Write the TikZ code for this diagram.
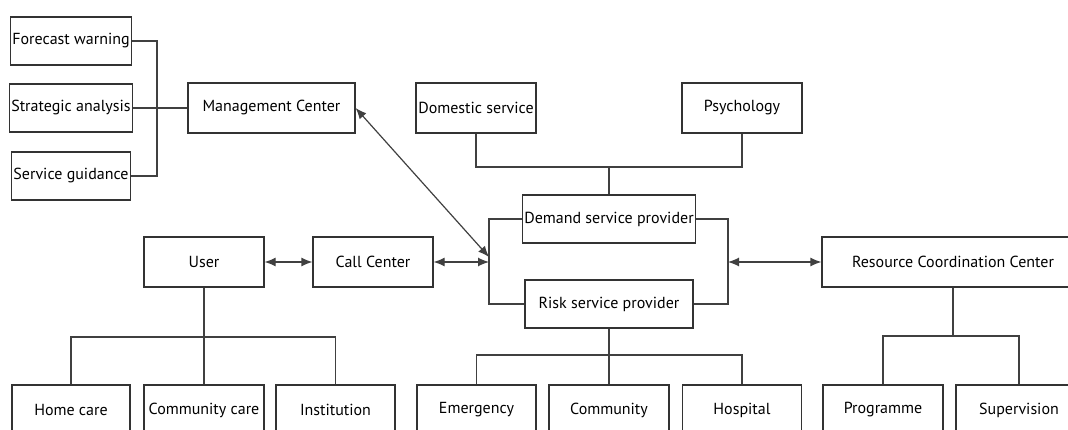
\documentclass[tikz,border=0pt]{standalone}
\usepackage{fontspec}
\setmainfont{PT Sans}
\usetikzlibrary{arrows.meta,positioning}

\begin{document}
\begin{tikzpicture}[x=1pt,y=-1pt,line width=1.2pt,
    box/.style={draw=black!80,rectangle,minimum height=48pt,inner sep=2pt,
        text=black,font=\fontsize{16}{19}\selectfont},
    link/.style={draw=black!75,line width=1.2pt},
    twoway/.style={link,{Latex[length=11pt,width=9pt]}-{Latex[length=11pt,width=9pt]}}]
    \useasboundingbox (0,0) rectangle (1068,430);
    \clip (0,0) rectangle (1068,430);
    % management branch
    \node[box,minimum width=118pt] (fw) at (71,41)  {Forecast warning};
    \node[box,minimum width=118pt] (sa) at (71,108) {Strategic analysis};
    \node[box,minimum width=118pt] (sg) at (71,176) {Service guidance};
    \node[box,minimum width=167pt,minimum height=50pt] (mc) at (271.5,108) {Management Center};
    % demand side
    \node[box,minimum width=120pt,minimum height=50pt] (ds)  at (476,108) {Domestic service};
    \node[box,minimum width=120pt,minimum height=50pt] (psy) at (742,108) {Psychology};
    \node[box,minimum width=168pt] (dsp) at (609,219) {Demand service provider};
    \node[box,minimum width=168pt] (rsp) at (609,304) {Risk service provider};
    % middle row
    \node[box,minimum width=120pt,minimum height=50pt] (user) at (204,262) {User};
    \node[box,minimum width=120pt,minimum height=50pt] (cc)   at (373,262) {Call Center};
    \node[box,minimum width=262pt,minimum height=50pt] (rcc)  at (953,262) {Resource Coordination Center};
    % bottom row
    \node[box,minimum width=118pt,minimum height=50pt] (hc)    at (71,410)    {Home care};
    \node[box,minimum width=120pt,minimum height=50pt] (ccare) at (204,410)   {Community care};
    \node[box,minimum width=119pt,minimum height=50pt] (inst)  at (335.5,410) {Institution};
    \node[box,minimum width=119pt,minimum height=50pt] (em)    at (476.5,410) {Emergency};
    \node[box,minimum width=120pt,minimum height=50pt] (com)   at (609,410)   {Community};
    \node[box,minimum width=119pt,minimum height=50pt] (hos)   at (742,410)   {Hospital};
    \node[box,minimum width=120pt,minimum height=50pt] (prog)  at (883,410)   {Programme};
    \node[box,minimum width=126pt,minimum height=50pt] (sup)   at (1019,410)  {Supervision};
    % junctions
    \coordinate (mj) at (157,108);
    \coordinate (dj) at (609,167);
    \coordinate (lb) at (489,262);
    \coordinate (rb) at (728,262);
    \coordinate (mcend) at (489,257);
    \coordinate (uj) at (204,337);
    \coordinate (rj) at (609,355);
    \coordinate (cj) at (953,336);
    % connectors
    \draw[link] (fw.east) -| (mj) |- (sg.east);
    \draw[link] (sa.east) -- (mc.west);
    \draw[link] (ds.south) |- (dj) -| (psy.south);
    \draw[link] (dj) -- (dsp.north);
    \draw[link] (dsp.west) -| (lb) |- (rsp.west);
    \draw[link] (dsp.east) -| (rb) |- (rsp.east);
    \draw[link] (user.south) -- (uj);
    \draw[link] (hc.north) |- (uj) -| (inst.north);
    \draw[link] (uj) -- (ccare.north);
    \draw[link] (rsp.south) -- (rj);
    \draw[link] (em.north) |- (rj) -| (hos.north);
    \draw[link] (rj) -- (com.north);
    \draw[link] (rcc.south) -- (cj);
    \draw[link] (prog.north) |- (cj) -| (sup.north);
    % two-way arrows
    \draw[twoway] (user) -- (cc);
    \draw[twoway] (cc) -- (lb);
    \draw[twoway] (rb) -- (rcc);
    \draw[twoway] (mc.east) -- (mcend);
\end{tikzpicture}
\end{document}
